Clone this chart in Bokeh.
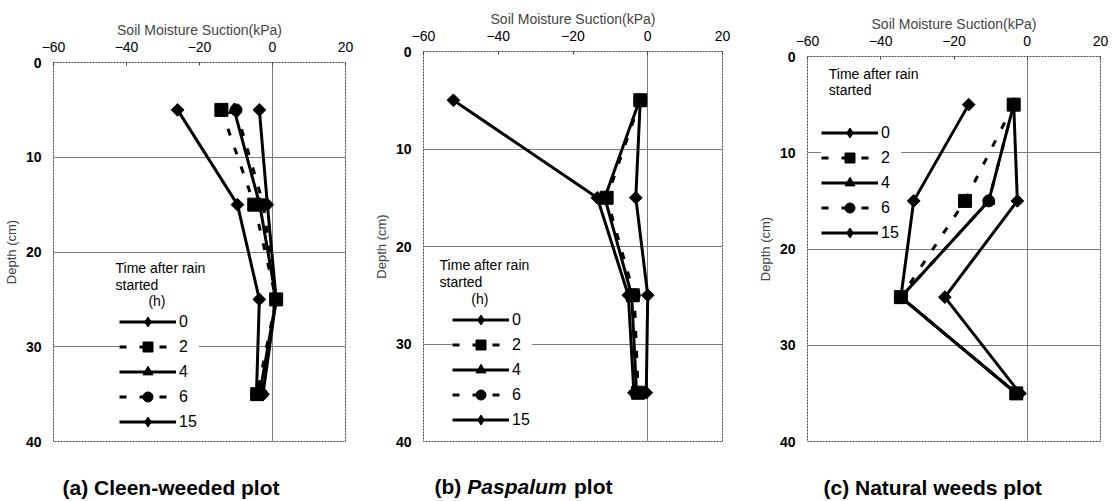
import math
from bokeh.plotting import figure
from bokeh.models import Range1d, FixedTicker, Legend, LegendItem, Label
from bokeh.layouts import row, column
from bokeh.embed import file_html
from bokeh.resources import INLINE

# ---------------- data ----------------
depth = [5, 15, 25, 35]
hours = ["0", "2", "4", "6", "15"]

# (a) Cleen-weeded plot
a_h0 = [-26.0, -9.6, -3.6, -4.4]
a_h2 = [-14.0, -5.0, 1.0, -4.2]
a_h4 = [-10.5, -3.5, 1.0, -3.5]
a_h6 = [-10.0, -2.5, 1.0, -3.0]
a_h15 = [-3.6, -1.4, 1.0, -2.6]

# (b) Paspalum plot
b_h0 = [-52.0, -13.5, -5.2, -3.7]
b_h2 = [-2.0, -11.0, -4.0, -2.6]
b_h4 = [-2.2, -11.5, -4.3, -3.0]
b_h6 = [-2.0, -11.0, -3.6, -2.6]
b_h15 = [-2.0, -3.2, 0.0, -0.4]

# (c) Natural weeds plot
c_h0 = [-16.0, -31.0, -34.5, -3.0]
c_h2 = [-3.7, -17.0, -34.5, -3.0]
c_h4 = [-3.7, -10.5, -34.5, -3.0]
c_h6 = [-3.7, -10.5, -34.5, -3.0]
c_h15 = [-3.7, -2.7, -22.5, -2.0]

x_ticks = [-60, -40, -20, 0, 20]
x_tick_labels = ["\u221260", "\u221240", "\u221220", "0", "20"]
y_ticks = [0, 10, 20, 30, 40]

x_title = "Soil Moisture Suction(kPa)"
y_title = "Depth (cm)"
legend_title = ["Time after rain", "started", "(h)"]

FONT = "Liberation Sans"

styles = {
    "0": dict(marker="square", angle=math.pi / 4, size=9, dash="solid", leg="diamond"),
    "2": dict(marker="square", angle=0.0, size=13, dash="7 13", leg="square"),
    "4": dict(marker="triangle", angle=0.0, size=12, dash="solid", leg="triangle"),
    "6": dict(marker="circle", angle=0.0, size=12, dash="7 13", leg="circle"),
    "15": dict(marker="square", angle=math.pi / 4, size=9, dash="solid", leg="diamond"),
}
draw_order = ["15", "0", "4", "6", "2"]


def make_panel(series, width, left, right, top, legend_loc, title_pos, show_h):
    p = figure(width=width, height=451, x_range=Range1d(-60, 20),
               y_range=Range1d(40, 0), x_axis_location="above",
               output_backend="svg", toolbar_location=None,
               min_border_left=left, min_border_right=right,
               min_border_top=top, min_border_bottom=10,
               title=x_title)
    p.background_fill_color = "white"
    p.border_fill_color = "white"
    p.outline_line_color = "#444444"
    p.outline_line_dash = "2 1"
    p.outline_line_width = 1

    p.title.align = "center"
    p.title.offset = 13
    p.title.text_font = FONT
    p.title.text_font_size = "14px"
    p.title.text_font_style = "normal"
    p.title.standoff = 2

    xa = p.xaxis[0]
    xa.ticker = FixedTicker(ticks=x_ticks)
    xa.major_label_overrides = {t: l for t, l in zip(x_ticks, x_tick_labels)}
    xa.major_tick_out = 0
    xa.major_tick_in = 3
    xa.minor_tick_out = 0
    xa.minor_tick_in = 0
    xa.axis_line_color = None
    xa.major_tick_line_color = "#444444"
    xa.major_label_standoff = 11
    xa.major_label_text_font = FONT
    xa.major_label_text_font_size = "14px"
    xa.major_label_text_color = "black"

    ya = p.yaxis[0]
    ya.ticker = FixedTicker(ticks=y_ticks)
    ya.major_tick_out = 0
    ya.major_tick_in = 0
    ya.minor_tick_out = 0
    ya.minor_tick_in = 0
    ya.axis_line_color = None
    ya.major_label_standoff = 12
    ya.major_label_text_font = FONT
    ya.major_label_text_font_size = "14px"
    ya.major_label_text_font_style = "bold"
    ya.major_label_text_color = "black"
    ya.axis_label = y_title
    ya.axis_label_text_font = FONT
    ya.axis_label_text_font_size = "13px"
    ya.axis_label_text_font_style = "normal"
    ya.axis_label_standoff = 4

    p.xgrid.ticker = FixedTicker(ticks=[0])
    p.ygrid.ticker = FixedTicker(ticks=[10, 20, 30])
    p.xgrid.grid_line_color = "#7a7a7a"
    p.ygrid.grid_line_color = "#7a7a7a"

    rends = {}
    for h in draw_order:
        st = styles[h]
        lr = p.line(series[h], depth, line_color="black", line_width=3,
                    line_dash=st["dash"])
        sr = p.scatter(series[h], depth, marker=st["marker"], size=st["size"],
                       angle=st["angle"], fill_color="black",
                       line_color="black")
        if st["leg"] == "diamond":
            # diamond hidden inside the rotated square; the legend
            # draws this renderer as its sample diamond
            lg = p.scatter(series[h], depth, marker="diamond", size=10,
                           fill_color="black", line_color="black")
            rends[h] = [lr, lg]
        else:
            rends[h] = [lr, sr]

    items = [LegendItem(label=h, renderers=rends[h]) for h in hours]
    leg = Legend(items=items, location=legend_loc, padding=2, margin=0,
                 spacing=0, glyph_width=57, glyph_height=25, label_height=25,
                 label_standoff=3, label_text_font=FONT,
                 label_text_font_size="16px", label_text_color="black",
                 border_line_color=None,
                 background_fill_color="white", background_fill_alpha=1.0)
    p.add_layout(leg)

    tx, ty0, hx = title_pos
    lines = legend_title if show_h else legend_title[:2]
    for i, t in enumerate(lines):
        xx = hx if t == "(h)" else tx
        p.add_layout(Label(x=xx, y=ty0 + i * 1.75, text=t, text_font=FONT,
                           text_font_size="14px", text_baseline="middle",
                           text_align="left", text_color="black"))
    return p


def make_caption(width, left, right, parts):
    # x in pixels from the left edge of the panel
    c = figure(width=width, height=50, x_range=Range1d(left, width - right),
               y_range=Range1d(0, 50), output_backend="svg",
               toolbar_location=None, min_border_left=left,
               min_border_right=right, min_border_top=0, min_border_bottom=0,
               x_axis_type=None, y_axis_type=None)
    c.grid.visible = False
    c.outline_line_color = None
    c.background_fill_color = "white"
    c.border_fill_color = "white"
    for (cx, cy, txt, style) in parts:
        c.add_layout(Label(x=cx, y=cy, text=txt, text_font=FONT,
                           text_font_size="21px", text_font_style=style,
                           text_baseline="middle", text_align="left",
                           text_color="black"))
    return c


pa = make_panel(dict(zip(hours, [a_h0, a_h2, a_h4, a_h6, a_h15])),
                370, 53, 25, 62, (66, 7), (-43.0, 21.7, -34.0), True)
pb = make_panel(dict(zip(hours, [b_h0, b_h2, b_h4, b_h6, b_h15])),
                375, 52, 23, 51, (29, 9), (-55.7, 21.9, -47.2), True)
pc = make_panel(dict(zip(hours, [c_h0, c_h2, c_h4, c_h6, c_h15])),
                370, 62, 15, 56, (14, 196), (-54.2, 1.77, -45.0), False)

ca = make_caption(370, 53, 25, [(62, 14, "(a) Cleen-weeded plot", "bold")])
cb = make_caption(375, 52, 23, [(63, 15, "(b)", "bold"),
                                (96, 15, "Paspalum", "bold italic"),
                                (203, 15, "plot", "bold")])
cc = make_caption(370, 62, 15, [(78, 14, "(c) Natural weeds plot", "bold")])

layout = row(column(pa, ca), column(pb, cb), column(pc, cc))
open("out.html", "w").write(file_html(layout, INLINE))
